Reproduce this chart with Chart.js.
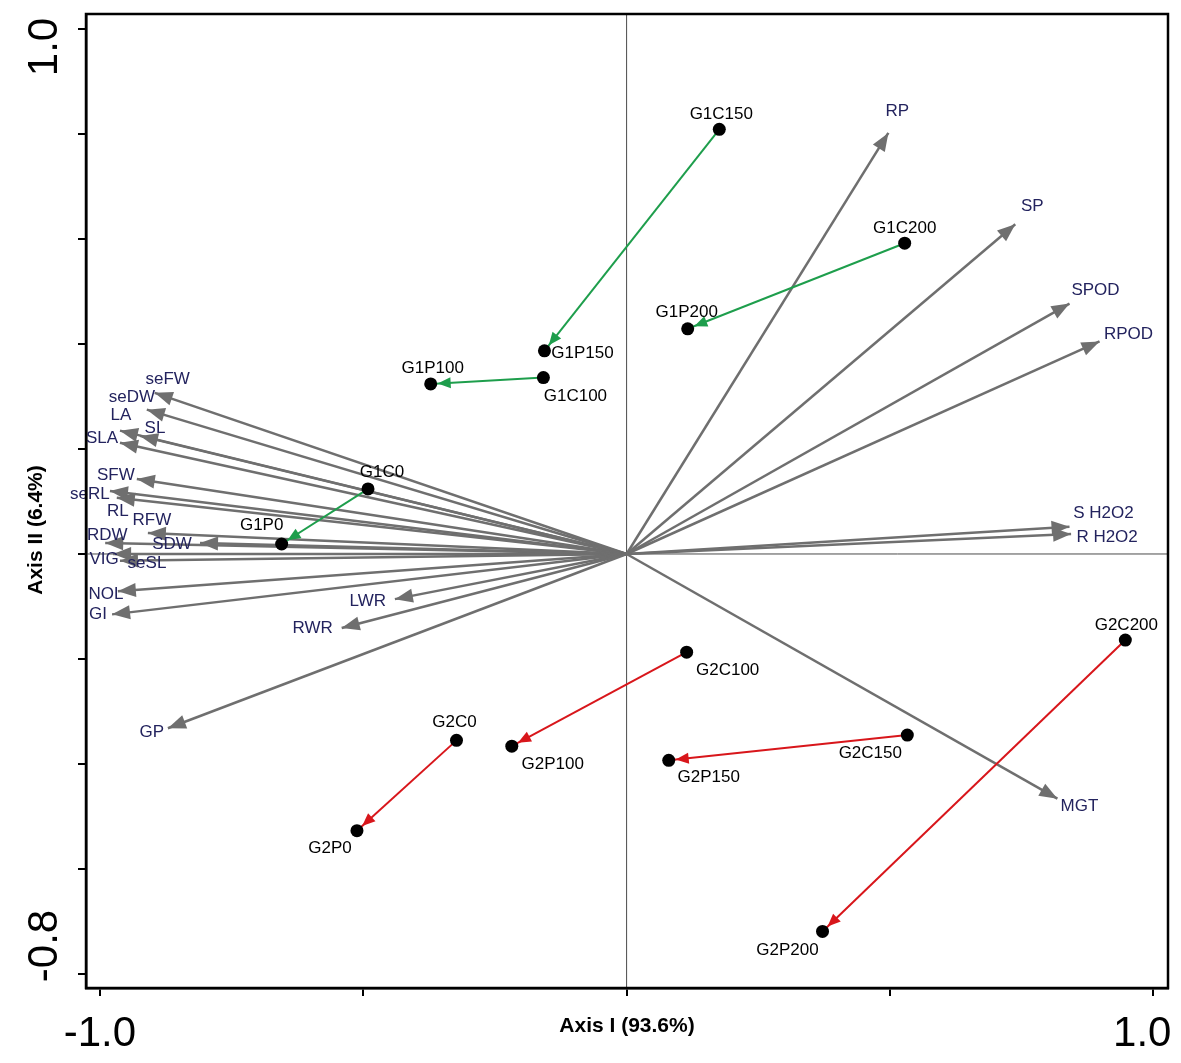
<!DOCTYPE html>
<html>
<head>
<meta charset="utf-8">
<script src="https://cdn.jsdelivr.net/npm/chart.js@4.4.1/dist/chart.umd.min.js"></script>
<style>
  html, body { margin: 0; padding: 0; background: #fff; }
  #wrap { width: 1181px; height: 1063px; }
</style>
</head>
<body>
<div id="wrap"><canvas id="graf"></canvas></div>
<script>
// Gruppernas koordinater (Axis I, Axis II)
const groupNames  = ['G1C0', 'G1P0', 'G1C100', 'G1P100', 'G1C150', 'G1P150', 'G1C200', 'G1P200',
                     'G2C0', 'G2P0', 'G2C100', 'G2P100', 'G2C150', 'G2P150', 'G2C200', 'G2P200'];
const groupAxisI  = [-0.491, -0.655, -0.158, -0.372, 0.176, -0.156, 0.528, 0.116,
                     -0.323, -0.512, 0.114, -0.218, 0.533, 0.080, 0.947, 0.372];
const groupAxisII = [0.124, 0.019, 0.336, 0.324, 0.809, 0.387, 0.592, 0.429,
                     -0.355, -0.527, -0.187, -0.366, -0.345, -0.393, -0.164, -0.719];

// pilar C -> P
const g1Shifts = [['G1C0', 'G1P0'], ['G1C100', 'G1P100'], ['G1C150', 'G1P150'], ['G1C200', 'G1P200']];
const g2Shifts = [['G2C0', 'G2P0'], ['G2C100', 'G2P100'], ['G2C150', 'G2P150'], ['G2C200', 'G2P200']];

// variabelvektorer
const traitNames  = ['RP', 'SP', 'SPOD', 'RPOD', 'S H2O2', 'R H2O2', 'MGT', 'GP', 'RWR', 'LWR',
                     'GI', 'NOL', 'seSL', 'VIG', 'SDW', 'RDW', 'RFW', 'RL', 'seRL', 'SFW',
                     'SLA', 'SL', 'LA', 'seDW', 'seFW'];
const traitAxisI  = [0.497, 0.738, 0.841, 0.898, 0.841, 0.844, 0.818, -0.871, -0.541, -0.440,
                     -0.977, -0.966, -0.962, -0.975, -0.810, -0.990, -0.909, -0.968, -0.981, -0.930,
                     -0.962, -0.924, -0.962, -0.911, -0.896];
const traitAxisII = [0.802, 0.628, 0.477, 0.405, 0.052, 0.038, -0.466, -0.332, -0.141, -0.086,
                     -0.115, -0.071, -0.013, 0.000, 0.021, 0.021, 0.040, 0.107, 0.120, 0.143,
                     0.212, 0.225, 0.235, 0.275, 0.307];

// axeltexter
const xTickValues = [-1, 1];
const xTickText   = ['-1.0', '1.0'];
const yTickValues = [1, -0.8];
const yTickText   = ['1.0', '-0.8'];

// etikettplacering i pixlar (bara layout)
const groupLabelOffset = {
  G1C0: [14, -17], G1P0: [-20, -19], G1C100: [32, 19], G1P100: [2, -16],
  G1C150: [2, -15], G1P150: [38, 2], G1C200: [0, -15], G1P200: [-1, -16],
  G2C0: [-2, -18], G2P0: [-27, 18], G2C100: [41, 18], G2P100: [41, 18],
  G2C150: [-37, 18], G2P150: [40, 17], G2C200: [1, -15], G2P200: [-35, 19]
};
const traitLabelOffset = {
  'RP': [9, -22], 'SP': [17, -18], 'SPOD': [26, -13], 'RPOD': [29, -7],
  'S H2O2': [34, -13], 'R H2O2': [36, 3], 'MGT': [22, 8], 'GP': [-16, 4],
  'RWR': [-29, 0], 'LWR': [-27, 2], 'GI': [-14, 0], 'NOL': [-12, 3],
  'seSL': [27, 2], 'VIG': [-9, 5], 'SDW': [-28, 1], 'RDW': [2, -8],
  'RFW': [4, -13], 'RL': [1, 13], 'seRL': [-20, 3], 'SFW': [-21, -4],
  'SLA': [-18, -4], 'SL': [15, -8], 'LA': [1, -15], 'seDW': [-15, -12], 'seFW': [13, -14]
};
const xTickShift = [0, -11];
const yTickShift = [18, -28];

const GRAY = '#6f6f6f';
const GREEN = '#1e9e4c';
const RED = '#d8161b';
const NAVY = '#23235e';
const FONT = '"Liberation Sans", Arial, sans-serif';

function pt(name) {
  const i = groupNames.indexOf(name);
  return { x: groupAxisI[i], y: groupAxisII[i] };
}

const datasets = [];
datasets.push({
  kind: 'groups',
  data: groupNames.map((n, i) => ({ x: groupAxisI[i], y: groupAxisII[i] })),
  pointRadius: 6.5,
  backgroundColor: '#000',
  borderColor: '#000',
  borderWidth: 0,
  showLine: false
});
g1Shifts.concat(g2Shifts).forEach(([c, p], k) => {
  const col = k < g1Shifts.length ? GREEN : RED;
  datasets.push({
    data: [pt(c), pt(p)],
    showLine: true,
    borderColor: col,
    borderWidth: 2,
    pointRadius: 0,
    head: { len: 13, w: 5.5, gap: 7, color: col }
  });
});
traitNames.forEach((n, i) => {
  datasets.push({
    kind: 'trait',
    name: n,
    data: [{ x: 0, y: 0 }, { x: traitAxisI[i], y: traitAxisII[i] }],
    showLine: true,
    borderColor: GRAY,
    borderWidth: 2.5,
    pointRadius: 0,
    head: { len: 18, w: 7, gap: 0, color: GRAY }
  });
});

// nollinjer, ram, pilspetsar och etiketter
const biplotExtras = {
  id: 'biplotExtras',
  beforeDatasetsDraw(chart) {
    const { ctx, chartArea: a, scales: { x, y } } = chart;
    const x0 = x.getPixelForValue(0), y0 = y.getPixelForValue(0);
    ctx.save();
    ctx.strokeStyle = '#4a4a4a';
    ctx.lineWidth = 1;
    ctx.beginPath();
    ctx.moveTo(x0, a.top); ctx.lineTo(x0, a.bottom);
    ctx.moveTo(a.left, y0); ctx.lineTo(a.right, y0);
    ctx.stroke();
    ctx.restore();
  },
  afterDatasetDraw(chart, args) {
    const ds = chart.data.datasets[args.index];
    if (!ds.head) return;
    const [a, b] = args.meta.data;
    const ang = Math.atan2(b.y - a.y, b.x - a.x);
    const c = Math.cos(ang), s = Math.sin(ang);
    const tx = b.x - c * ds.head.gap, ty = b.y - s * ds.head.gap;
    const bx = tx - c * ds.head.len, by = ty - s * ds.head.len;
    const ctx = chart.ctx;
    ctx.save();
    ctx.fillStyle = ds.head.color;
    ctx.beginPath();
    ctx.moveTo(tx, ty);
    ctx.lineTo(bx - s * ds.head.w, by + c * ds.head.w);
    ctx.lineTo(bx + s * ds.head.w, by - c * ds.head.w);
    ctx.closePath();
    ctx.fill();
    ctx.restore();
  },
  afterDatasetsDraw(chart) {
    const ctx = chart.ctx;
    ctx.save();
    ctx.textAlign = 'center';
    ctx.textBaseline = 'middle';
    ctx.font = '17px ' + FONT;
    chart.data.datasets.forEach((ds, i) => {
      const meta = chart.getDatasetMeta(i);
      if (ds.kind === 'groups') {
        ctx.fillStyle = '#000';
        meta.data.forEach((el, j) => {
          const o = groupLabelOffset[groupNames[j]];
          ctx.fillText(groupNames[j], el.x + o[0], el.y + o[1]);
        });
      } else if (ds.kind === 'trait') {
        ctx.fillStyle = NAVY;
        const el = meta.data[1];
        const o = traitLabelOffset[ds.name];
        ctx.fillText(ds.name, el.x + o[0], el.y + o[1]);
      }
    });
    ctx.restore();
  },
  afterDraw(chart) {
    const { ctx, chartArea: a, scales: { x, y } } = chart;
    ctx.save();
    ctx.strokeStyle = '#000';
    ctx.lineWidth = 2.5;
    ctx.strokeRect(a.left, a.top, a.right - a.left, a.bottom - a.top);
    // axlarnas ytterst siffror, y roterade
    ctx.fillStyle = '#000';
    ctx.textAlign = 'center';
    ctx.textBaseline = 'middle';
    ctx.font = '42px ' + FONT;
    xTickValues.forEach((v, i) => {
      ctx.fillText(xTickText[i], x.getPixelForValue(v) + xTickShift[i], a.bottom + 46);
    });
    yTickValues.forEach((v, i) => {
      ctx.save();
      ctx.translate(45, y.getPixelForValue(v) + yTickShift[i]);
      ctx.rotate(-Math.PI / 2);
      ctx.fillText(yTickText[i], 0, 0);
      ctx.restore();
    });
    ctx.font = 'bold 21px ' + FONT;
    ctx.translate(36, 530);
    ctx.rotate(-Math.PI / 2);
    ctx.fillText('Axis II (6.4%)', 0, 0);
    ctx.restore();
  }
};

new Chart(document.getElementById('graf'), {
  type: 'scatter',
  data: { datasets },
  options: {
    responsive: true,
    maintainAspectRatio: false,
    devicePixelRatio: 1,
    animation: false,
    events: [],
    layout: { padding: { top: 14, right: 13, left: 0, bottom: 0 } },
    plugins: { legend: { display: false }, tooltip: { enabled: false } },
    scales: {
      x: {
        type: 'linear',
        min: -1.0265,
        max: 1.028,
        afterFit: s => { s.height = 75; s.paddingLeft = 0; s.paddingRight = 0; },
        border: { display: true, color: '#000', width: 2.5 },
        grid: { drawOnChartArea: false, drawTicks: true, tickLength: 8, color: '#000', lineWidth: 2 },
        ticks: {
          stepSize: 0.5,
          includeBounds: false,
          maxRotation: 0,
          autoSkip: false,
          callback: () => ''
        },
        title: {
          display: true,
          text: 'Axis I (93.6%)',
          color: '#000',
          font: { size: 21, weight: 'bold', family: FONT },
          padding: { top: 0, bottom: 24 }
        }
      },
      y: {
        type: 'linear',
        min: -0.8267,
        max: 1.0286,
        afterFit: s => { s.width = 86; },
        border: { display: true, color: '#000', width: 2.5 },
        grid: { drawOnChartArea: false, drawTicks: true, tickLength: 8, color: '#000', lineWidth: 2 },
        ticks: {
          stepSize: 0.2,
          includeBounds: false,
          autoSkip: false,
          callback: () => ''
        }
      }
    }
  },
  plugins: [biplotExtras]
});
</script>
</body>
</html>
